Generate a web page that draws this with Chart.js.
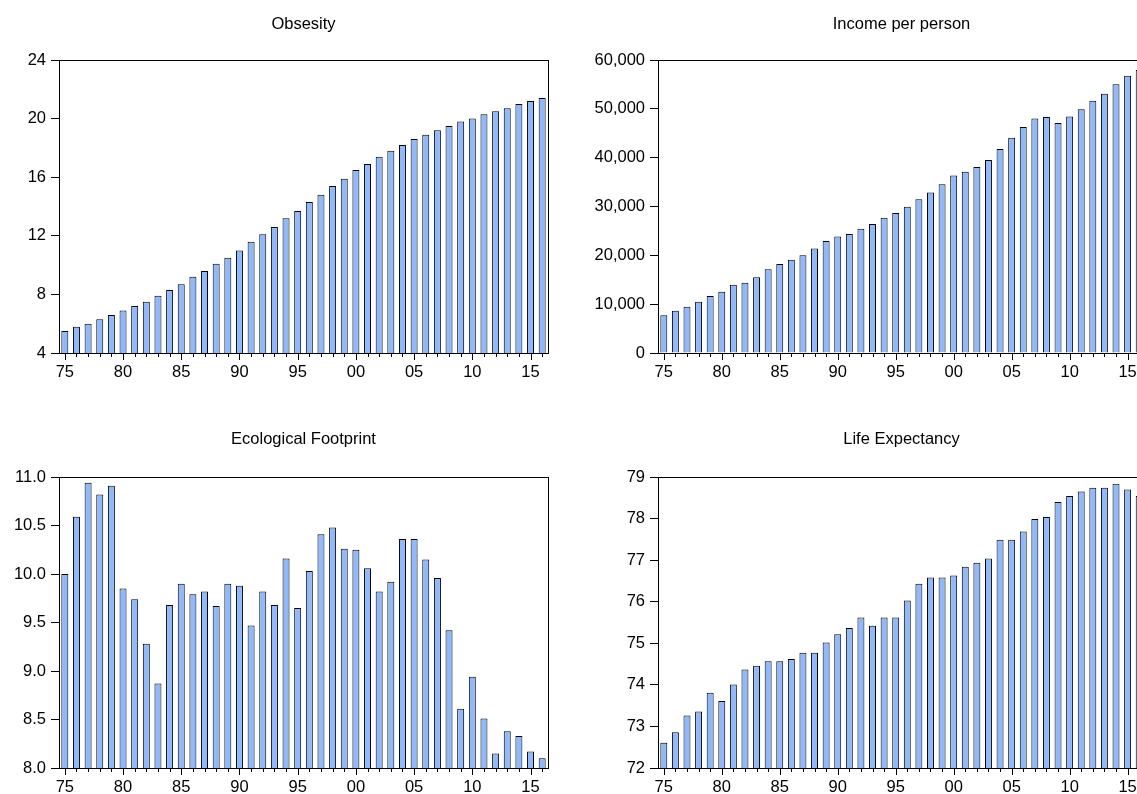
<!DOCTYPE html>
<html>
<head>
<meta charset="utf-8">
<script src="https://cdn.jsdelivr.net/npm/chart.js@4.4.1/dist/chart.umd.min.js"></script>
<style>
  html, body { margin: 0; padding: 0; background: #fff; overflow: hidden; width: 1137px; height: 794px; }
  canvas { position: absolute; }
</style>
</head>
<body>
<canvas id="obesity" width="568" height="400" style="left:0px;top:0px;width:568px;height:400px"></canvas>
<canvas id="income" width="600" height="400" style="left:568px;top:0px;width:600px;height:400px"></canvas>
<canvas id="footprint" width="568" height="400" style="left:0px;top:400px;width:568px;height:400px"></canvas>
<canvas id="life" width="600" height="400" style="left:568px;top:400px;width:600px;height:400px"></canvas>
<script>
years = [1975, 1976, 1977, 1978, 1979, 1980, 1981, 1982, 1983, 1984,
         1985, 1986, 1987, 1988, 1989, 1990, 1991, 1992, 1993, 1994,
         1995, 1996, 1997, 1998, 1999, 2000, 2001, 2002, 2003, 2004,
         2005, 2006, 2007, 2008, 2009, 2010, 2011, 2012, 2013, 2014,
         2015, 2016];

obesity = [5.5, 5.8, 6.0, 6.3, 6.6, 6.9, 7.2, 7.5, 7.9, 8.3,
           8.7, 9.2, 9.6, 10.1, 10.5, 11.0, 11.6, 12.1, 12.6, 13.2,
           13.7, 14.3, 14.8, 15.4, 15.9, 16.5, 16.9, 17.4, 17.8, 18.2,
           18.6, 18.9, 19.2, 19.5, 19.8, 20.0, 20.3, 20.5, 20.7, 21.0,
           21.2, 21.4];

income = [7750, 8640, 9460, 10490, 11660, 12550, 13990, 14400, 15500, 17150,
          18240, 19070, 20030, 21400, 22910, 23870, 24350, 25450, 26400, 27710,
          28670, 29970, 31480, 32850, 34570, 36350, 37110, 38070, 39510, 41770,
          44100, 46300, 48010, 48350, 47120, 48420, 49930, 51650, 53090, 55010,
          56790, 57960];

footprint = [10.00, 10.59, 10.94, 10.82, 10.91, 9.85, 9.74, 9.28, 8.87, 9.68,
             9.90, 9.79, 9.82, 9.67, 9.90, 9.88, 9.47, 9.82, 9.68, 10.16,
             9.65, 10.03, 10.41, 10.48, 10.26, 10.25, 10.06, 9.82, 9.92, 10.36,
             10.36, 10.15, 9.96, 9.42, 8.61, 8.94, 8.51, 8.15, 8.38, 8.33,
             8.17, 8.10];

lifeExpectancy = [72.61, 72.86, 73.26, 73.36, 73.81, 73.61, 74.01, 74.37, 74.46, 74.57,
                  74.57, 74.62, 74.77, 74.77, 75.02, 75.22, 75.37, 75.62, 75.42, 75.62,
                  75.62, 76.03, 76.43, 76.58, 76.58, 76.63, 76.84, 76.94, 77.04, 77.49,
                  77.49, 77.69, 77.99, 78.04, 78.40, 78.54, 78.65, 78.74, 78.74, 78.84,
                  78.70, 78.54];

Chart.defaults.font.family = '"Liberation Sans", Arial, sans-serif';
Chart.defaults.font.size = 16.5;
Chart.defaults.color = "#000";

// frame round the plot area, yearly ticks under the x axis, and a title centred on the plot
framePlugin = {
     id: "frame",
     afterDraw(chart, args, opts) {
          const ctx = chart.ctx;
          const a = chart.chartArea;
          const x = chart.scales.x;
          ctx.save();
          ctx.strokeStyle = "#000";
          ctx.lineWidth = 1;
          ctx.strokeRect(Math.round(a.left) + 0.5, Math.round(a.top) + 0.5,
                         Math.round(a.right - a.left), Math.round(a.bottom - a.top));
          ctx.beginPath();
          years.forEach((yr, i) => {
               const px = Math.round(x.getPixelForValue(i)) + 0.5;
               const len = yr % 5 === 0 ? 7 : 4;
               ctx.moveTo(px, Math.round(a.bottom));
               ctx.lineTo(px, Math.round(a.bottom) + len);
          });
          ctx.stroke();

          ctx.fillStyle = "#000";
          ctx.font = '16.5px "Liberation Sans", Arial, sans-serif';
          ctx.textAlign = "center";
          ctx.textBaseline = "middle";
          ctx.fillText(opts.text, (a.left + a.right) / 2, opts.y);
          ctx.restore();
     }
};

function makeChart(id, title, values, yMin, yMax, yStep, fmt, box) {
     return new Chart(id, {
          type: "bar",
          data: {
               labels: years,
               datasets: [{
                    data: values,
                    backgroundColor: "rgb(145, 185, 250)",
                    borderColor: "#000",
                    borderWidth: 1,
                    borderSkipped: "start",
                    barPercentage: 0.6,
                    categoryPercentage: 1.0
               }]
          },
          options: {
               responsive: false,
               animation: false,
               devicePixelRatio: 1,
               layout: { padding: { left: 0, right: box.right, top: box.top, bottom: 0 } },
               plugins: {
                    legend: { display: false },
                    tooltip: { enabled: false },
                    title: { display: false },
                    frame: { text: title, y: box.titleY }
               },
               scales: {
                    x: {
                         grid: { display: true, drawOnChartArea: false, offset: false,
                                 tickLength: 6, tickColor: "rgba(0,0,0,0)" },
                         border: { display: true, color: "#000" },
                         ticks: {
                              autoSkip: false,
                              maxRotation: 0,
                              padding: 4,
                              callback: function (v, i) {
                                   return years[i] % 5 === 0 ? String(years[i]).slice(2) : "";
                              }
                         },
                         afterFit: function (s) { s.height = box.xHeight; }
                    },
                    y: {
                         min: yMin,
                         max: yMax,
                         grid: { drawOnChartArea: false, tickLength: 8, tickColor: "#000" },
                         border: { display: true, color: "#000" },
                         ticks: { stepSize: yStep, padding: 5, callback: fmt },
                         afterFit: function (s) { s.width = box.yWidth; }
                    }
               }
          },
          plugins: [framePlugin]
     });
}

topLeft = { yWidth: 59, right: 20, top: 60, titleY: 24, xHeight: 47 };
topRight = { yWidth: 90, right: 23, top: 60, titleY: 24, xHeight: 47 };
bottomLeft = { yWidth: 59, right: 20, top: 77, titleY: 39, xHeight: 32 };
bottomRight = { yWidth: 90, right: 23, top: 77, titleY: 39, xHeight: 32 };

makeChart("obesity", "Obsesity", obesity, 4, 24, 4, v => String(v), topLeft);
makeChart("income", "Income per person", income, 0, 60000, 10000,
          v => v.toLocaleString("en-US"), topRight);
makeChart("footprint", "Ecological Footprint", footprint, 8, 11, 0.5,
          v => v.toFixed(1), bottomLeft);
makeChart("life", "Life Expectancy", lifeExpectancy, 72, 79, 1, v => String(v), bottomRight);
</script>
</body>
</html>
